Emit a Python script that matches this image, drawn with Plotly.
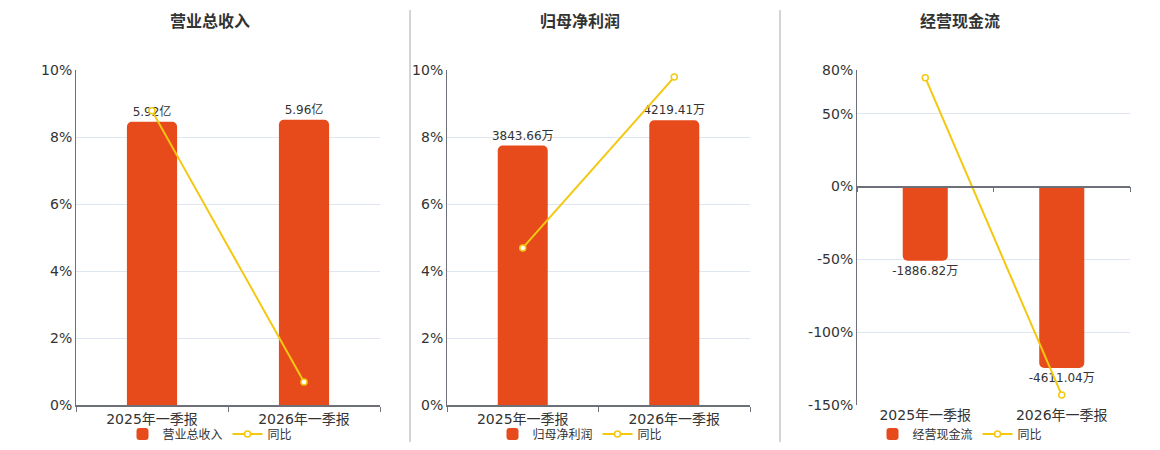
import plotly.graph_objects as go

categories = ['2025年一季报', '2026年一季报']

revenue = [5.92, 5.96]          # 亿
revenue_yoy = [8.78, 0.69]      # %
profit = [3843.66, 4219.41]     # 万
profit_yoy = [4.69, 9.79]       # %
cashflow = [-1886.82, -4611.04]  # 万
cashflow_yoy = [74.7, -143.2]   # %

titles = ['营业总收入', '归母净利润', '经营现金流']
units = ['亿', '万', '万']

BAR = '#E84B1B'
LINE = '#F2C811'
AXIS = '#6E7079'
GRID = '#E0E6F1'
TXT = '#333333'
FONT = 'DejaVu Sans, Noto Sans CJK SC, sans-serif'

# page body has an 8px margin, so the figure is drawn 8px in from the window corner
OFF = 8
W, H = 1160 - 2 * OFF, 450 - 2 * OFF
def px_x(v): return (v - OFF) / W
def px_y(v): return 1 - (v - OFF) / H

domains = [(76, 380), (447, 750), (857, 1130)]
ydom = [px_y(405), px_y(70)]

bars = [revenue, profit, cashflow]
yoys = [revenue_yoy, profit_yoy, cashflow_yoy]
bar_ranges = [[0, 7.0], [0, 4964], [-150 * 37, 80 * 37]]
line_ranges = [[0, 10], [0, 10], [-150, 80]]
line_ticks = [[0, 2, 4, 6, 8, 10], [0, 2, 4, 6, 8, 10], [-150, -100, -50, 0, 50, 80]]
legend_x = [210, 580, 960]

fig = go.Figure()
layout = {}

for i in range(3):
    n = i + 1
    xa = 'x' if n == 1 else f'x{n}'
    yb = 'y' if n == 1 else f'y{n}'
    yl = f'y{n + 3}'
    lg = 'legend' if n == 1 else f'legend{n}'

    fig.add_trace(go.Bar(
        x=categories, y=bars[i], xaxis=xa, yaxis=yb, name=titles[i],
        marker=dict(color=BAR, line=dict(width=0)), width=0.33,
        texttemplate='%{y:.2f}' + units[i], textposition='outside', constraintext='none',
        textfont=dict(size=12, color=TXT), cliponaxis=False, legend=lg,
    ))

    lx = 'x7' if n == 3 else xa
    fig.add_trace(go.Scatter(
        x=categories, y=yoys[i], xaxis=lx, yaxis=yl, name='同比',
        mode='lines+markers', line=dict(color=LINE, width=2),
        marker=dict(symbol='circle', size=6, color='white', line=dict(color=LINE, width=1.5)),
        cliponaxis=False, legend=lg,
    ))

    d = [px_x(domains[i][0]), px_x(domains[i][1])]
    xkey = 'xaxis' if n == 1 else f'xaxis{n}'
    ybkey = 'yaxis' if n == 1 else f'yaxis{n}'
    ylkey = f'yaxis{n + 3}'

    xdef = dict(domain=d, anchor=yb, type='category', range=[-0.5, 1.5], showline=True,
                linecolor=AXIS, linewidth=1.5, ticks='outside', tickson='boundaries', ticklen=5,
                tickcolor=AXIS, tickfont=dict(size=14, color=TXT), showgrid=False,
                zeroline=False, automargin=False, fixedrange=True)
    if n == 3:
        zero_pos = ydom[0] + (ydom[1] - ydom[0]) * (150 / 230)
        xdef.update(anchor='free', position=zero_pos, showticklabels=False)
        layout['xaxis7'] = dict(domain=d, overlaying='x3', anchor='free', position=ydom[0],
                                type='category', range=[-0.5, 1.5], showline=False, ticks='',
                                showgrid=False, tickfont=dict(size=14, color=TXT),
                                zeroline=False, automargin=False)
    layout[xkey] = xdef
    layout[ybkey] = dict(domain=ydom, anchor=xa, range=bar_ranges[i], visible=False,
                         showgrid=False, zeroline=False, automargin=False)
    layout[ylkey] = dict(overlaying=yb, anchor=xa, side='left', range=line_ranges[i],
                         tickmode='array', tickvals=line_ticks[i],
                         ticktext=[f'{v}%' for v in line_ticks[i]],
                         showline=True, linecolor=AXIS, linewidth=1, ticks='',
                         showgrid=True, gridcolor=GRID, gridwidth=1,
                         zeroline=(n == 3), zerolinecolor=AXIS, zerolinewidth=1.5,
                         tickfont=dict(size=14, color=TXT), automargin=False)
    layout[lg] = dict(orientation='h', x=px_x(legend_x[i]), y=px_y(434), xanchor='center',
                      yanchor='middle', font=dict(size=12, color=TXT), bgcolor='rgba(0,0,0,0)',
                      itemwidth=30, tracegroupgap=0, maxheight=0.3)

annotations = []
for i in range(3):
    annotations.append(dict(text='<b>' + titles[i] + '</b>', x=px_x(legend_x[i]), y=px_y(22),
                            xref='paper', yref='paper', showarrow=False,
                            font=dict(size=16, color=TXT), xanchor='center', yanchor='middle'))

shapes = []
for sx in [410, 780]:
    shapes.append(dict(type='line', xref='paper', yref='paper', x0=px_x(sx), x1=px_x(sx),
                       y0=px_y(10), y1=px_y(443), line=dict(color='#AAAAAA', width=1)))

fig.update_layout(
    width=W, height=H, margin=dict(l=0, r=0, t=0, b=0, autoexpand=False),
    paper_bgcolor='white', plot_bgcolor='white',
    font=dict(family=FONT, color=TXT),
    barmode='group', barcornerradius=5,
    annotations=annotations, shapes=shapes,
    **layout,
)

fig.write_html('out.html')
